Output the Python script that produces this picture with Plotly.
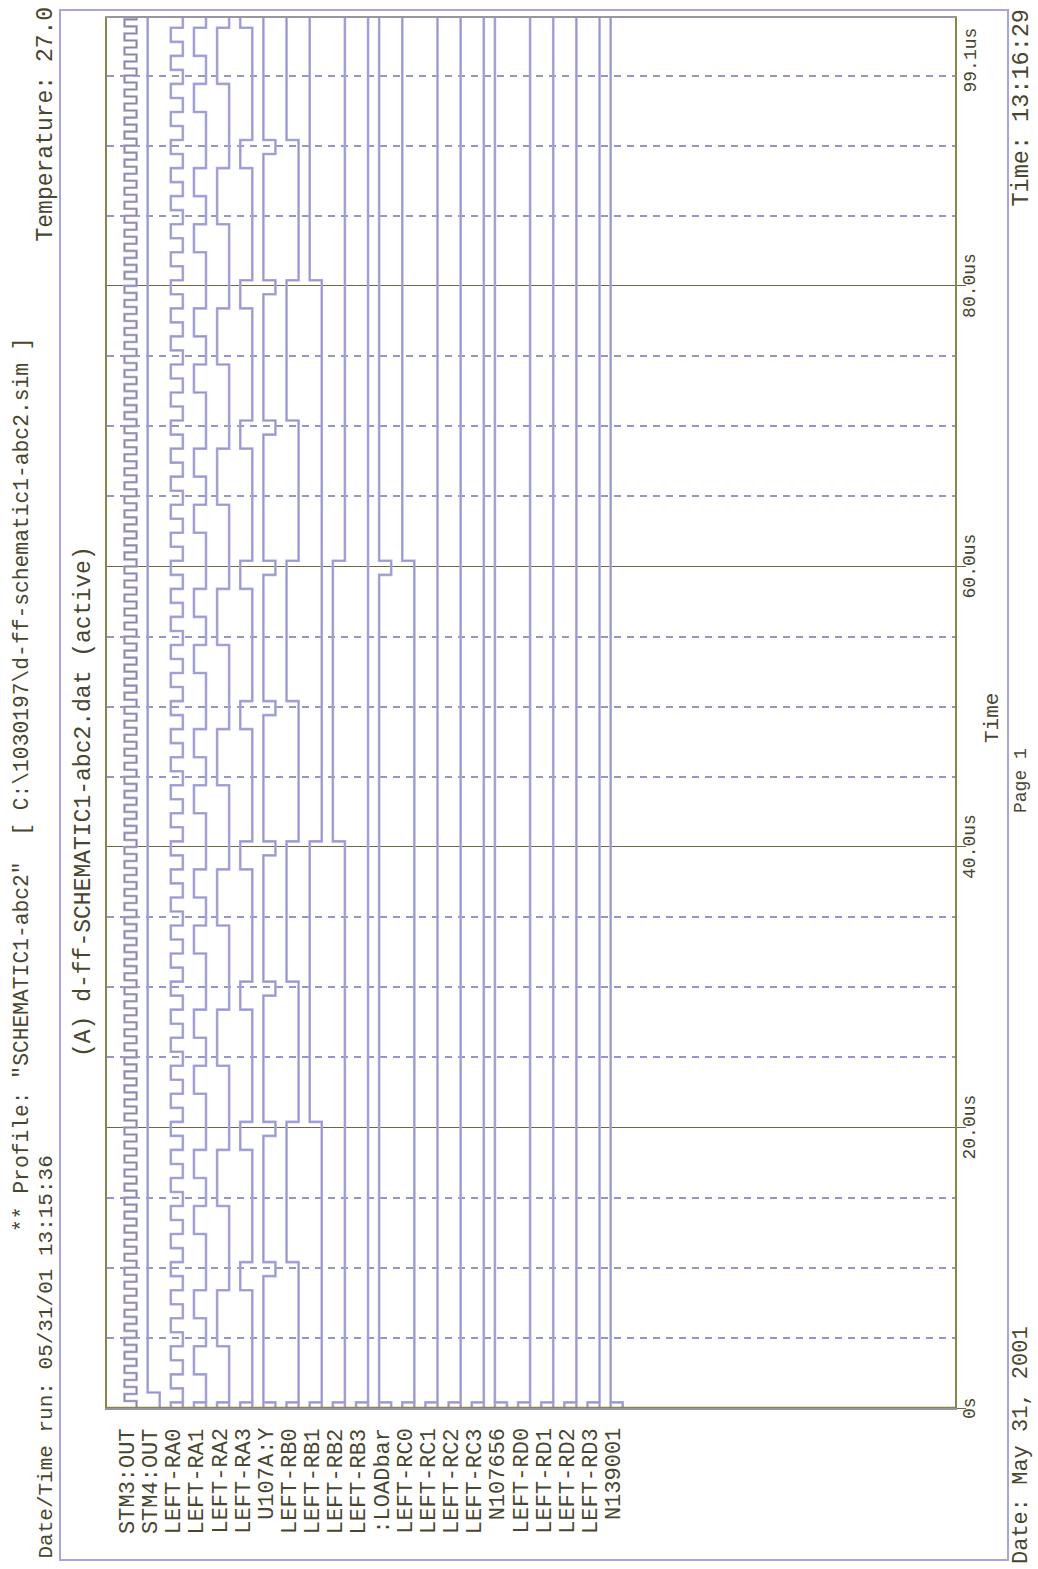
import plotly.graph_objects as go

# ---------------------------------------------------------------------------
# Digital simulation traces (PSpice-style printout, page rotated 90 degrees)
# ---------------------------------------------------------------------------
W, H = 1038, 1569

SIGNALS = ["STM3:OUT", "STM4:OUT", "LEFT-RA0", "LEFT-RA1", "LEFT-RA2", "LEFT-RA3",
           "U107A:Y", "LEFT-RB0", "LEFT-RB1", "LEFT-RB2", "LEFT-RB3", ":LOADbar",
           "LEFT-RC0", "LEFT-RC1", "LEFT-RC2", "LEFT-RC3", "N107656",
           "LEFT-RD0", "LEFT-RD1", "LEFT-RD2", "LEFT-RD3", "N139001"]

T_END = 99.1                      # us, end of the time axis
X_UNTIL = 0.4                     # us, signals are unknown (X) before this

# clock STM3:OUT - rising edges (us), high for half a period
STM3_RISE = [0.5, 1.5, 2.5, 3.5, 4.5, 5.5, 6.5, 7.5, 8.5, 9.5,
             10.5, 11.5, 12.5, 13.5, 14.5, 15.5, 16.5, 17.5, 18.5, 19.5,
             20.5, 21.5, 22.5, 23.5, 24.5, 25.5, 26.5, 27.5, 28.5, 29.5,
             30.5, 31.5, 32.5, 33.5, 34.5, 35.5, 36.5, 37.5, 38.5, 39.5,
             40.5, 41.5, 42.5, 43.5, 44.5, 45.5, 46.5, 47.5, 48.5, 49.5,
             50.5, 51.5, 52.5, 53.5, 54.5, 55.5, 56.5, 57.5, 58.5, 59.5,
             60.5, 61.5, 62.5, 63.5, 64.5, 65.5, 66.5, 67.5, 68.5, 69.5,
             70.5, 71.5, 72.5, 73.5, 74.5, 75.5, 76.5, 77.5, 78.5, 79.5,
             80.5, 81.5, 82.5, 83.5, 84.5, 85.5, 86.5, 87.5, 88.5, 89.5,
             90.5, 91.5, 92.5, 93.5, 94.5, 95.5, 96.5, 97.5, 98.5]
STM3_HIGH = 0.5

# STM4:OUT goes high once after start-up
STM4_RISE = 1.1

# units counter (LEFT-RA3..RA0), one value per 1 us slot starting at 0.4 us
RA_SLOT = 1.0
RA_COUNT = [0, 1, 2, 3, 4, 5, 6, 7, 8, 9,
            0, 1, 2, 3, 4, 5, 6, 7, 8, 9,
            0, 1, 2, 3, 4, 5, 6, 7, 8, 9,
            0, 1, 2, 3, 4, 5, 6, 7, 8, 9,
            0, 1, 2, 3, 4, 5, 6, 7, 8, 9,
            0, 1, 2, 3, 4, 5, 6, 7, 8, 9,
            0, 1, 2, 3, 4, 5, 6, 7, 8, 9,
            0, 1, 2, 3, 4, 5, 6, 7, 8, 9,
            0, 1, 2, 3, 4, 5, 6, 7, 8, 9,
            0, 1, 2, 3, 4, 5, 6, 7, 8]

# tens / higher registers, one value per 10 us slot starting at 0.4 us
DEC_SLOT = 10.0
RB_COUNT = [0, 1, 2, 3, 4, 5, 0, 1, 2, 3]
RC_COUNT = [0, 0, 0, 0, 0, 0, 1, 1, 1, 1]
RD_COUNT = [0, 0, 0, 0, 0, 0, 0, 0, 0, 0]

# active-low strobes (start of each low pulse, us)
U107A_LOW = [9.4, 19.4, 29.4, 39.4, 49.4, 59.4, 69.4, 79.4, 89.4]
LOADBAR_LOW = [59.4]
PULSE_LEN = 1.0

# time axis
MAJOR_T = [0, 20, 40, 60, 80]
MINOR_T = [5, 10, 15, 25, 30, 35, 45, 50, 55, 65, 70, 75, 85, 90, 95]
TICK_TEXT = ["0s", "20.0us", "40.0us", "60.0us", "80.0us"]
END_TEXT = "99.1us"

# ---------------------------------------------------------------------------
LOW_OFS = 0.52            # lane offset of the low level (high level sits at lane index)
LAVENDER = "#abaaf6"
OLIVE = "#8a854a"
GRID_MAJOR = "#6c693e"
GRID_MINOR = "#9694c8"
TEXT = "#48462f"
FONT = "Liberation Mono, Courier New, monospace"


def level_x(lane, lvl):
    return lane + (0.0 if lvl else LOW_OFS)


def intervals_from_slots(start, slot, values, bit):
    out = []
    for k, v in enumerate(values):
        t0 = start + k * slot
        if t0 >= T_END:
            break
        out.append((t0, min(t0 + slot, T_END), (v >> bit) & 1))
    return out


def intervals_with_pulses(start, lows, width):
    out, t = [], start
    for p in lows:
        out.append((t, p, 1))
        out.append((p, p + width, 0))
        t = p + width
    out.append((t, T_END, 1))
    return out


def merge(iv):
    out = []
    for seg in iv:
        if out and out[-1][2] == seg[2] and abs(out[-1][1] - seg[0]) < 1e-9:
            out[-1] = (out[-1][0], seg[1], seg[2])
        else:
            out.append(seg)
    return out


def path(lane, intervals, unknown_until=None):
    xs, ys = [], []
    if unknown_until is not None:
        hx, lx = level_x(lane, 1), level_x(lane, 0)
        xs += [hx, hx, lx, lx, None]
        ys += [0, unknown_until, unknown_until, 0, None]
    prev = None
    for t0, t1, lvl in intervals:
        x = level_x(lane, lvl)
        if prev is None or prev != x:
            xs.append(x); ys.append(t0)
        xs.append(x); ys.append(t1)
        prev = x
    return xs, ys


waves = {}
clk, t = [], 0.0
for r in STM3_RISE:
    clk.append((t, r, 0)); clk.append((r, r + STM3_HIGH, 1)); t = r + STM3_HIGH
if t < T_END:
    clk.append((t, T_END, 0))
waves[0] = (clk, None)
waves[1] = ([(0.0, STM4_RISE, 0), (STM4_RISE, T_END, 1)], None)
for b in range(4):
    waves[2 + b] = (merge(intervals_from_slots(X_UNTIL, RA_SLOT, RA_COUNT, b)), X_UNTIL)
    waves[7 + b] = (merge(intervals_from_slots(X_UNTIL, DEC_SLOT, RB_COUNT, b)), X_UNTIL)
    waves[12 + b] = (merge(intervals_from_slots(X_UNTIL, DEC_SLOT, RC_COUNT, b)), X_UNTIL)
    waves[17 + b] = (merge(intervals_from_slots(X_UNTIL, DEC_SLOT, RD_COUNT, b)), X_UNTIL)
waves[6] = (intervals_with_pulses(X_UNTIL, U107A_LOW, PULSE_LEN), X_UNTIL)
waves[11] = (intervals_with_pulses(X_UNTIL, LOADBAR_LOW, PULSE_LEN), X_UNTIL)
waves[16] = ([(X_UNTIL, T_END, 1)], X_UNTIL)
waves[21] = ([(X_UNTIL, T_END, 1)], X_UNTIL)

fig = go.Figure()
for lane in range(len(SIGNALS)):
    iv, unk = waves[lane]
    xs, ys = path(lane, iv, unk)
    # soft periwinkle body with a thin olive core, like the printed trace
    fig.add_trace(go.Scatter(x=xs, y=ys, mode="lines", name=SIGNALS[lane],
                             line=dict(color=LAVENDER, width=2.6),
                             hoverinfo="skip", showlegend=False))
    fig.add_trace(go.Scatter(x=xs, y=ys, mode="lines", name=SIGNALS[lane],
                             line=dict(color=OLIVE, width=1),
                             opacity=0.8 if lane == 0 else 0.45,
                             hoverinfo="skip", showlegend=False))

# plot area in pixels -> domains
PX_L, PX_R, PX_T, PX_B = 107, 955, 18, 1408
LANE_PX, LANE0_PX = 23.15, 124.5
x_rng = [(PX_L - LANE0_PX) / LANE_PX, (PX_R - LANE0_PX) / LANE_PX]

fig.update_layout(
    width=W, height=H, autosize=False,
    margin=dict(l=0, r=0, t=0, b=0),
    paper_bgcolor="white", plot_bgcolor="white",
    showlegend=False,
    xaxis=dict(domain=[PX_L / W, PX_R / W], range=x_rng, showgrid=False,
               zeroline=False, showticklabels=False, ticks="",
               showline=True, mirror=True, linecolor="#9a96a0", linewidth=1.6),
    yaxis=dict(domain=[1 - PX_B / H, 1 - PX_T / H], range=[0, T_END],
               side="right", showgrid=True, gridcolor=GRID_MAJOR, gridwidth=1.3,
               zeroline=False, tickvals=MAJOR_T, showticklabels=False,
               ticks="outside", ticklen=9, tickcolor=GRID_MAJOR, tickwidth=1.3,
               showline=True, mirror=True, linecolor=OLIVE, linewidth=1.6,
               minor=dict(tickvals=MINOR_T, showgrid=True, gridcolor=GRID_MINOR,
                          griddash="7px,6px", gridwidth=1.5, ticks="")),
)

# heavier bottom edge of the trace window (time = 0)
fig.add_shape(type="line", xref="x domain", yref="y", x0=0, x1=1, y0=0, y1=0,
              line=dict(color=OLIVE, width=2.4))

# page frame
fig.add_shape(type="rect", xref="paper", yref="paper",
              x0=60 / W, x1=1008 / W, y0=1 - 1560 / H, y1=1 - 10 / H,
              line=dict(color="#a7a5dc", width=2), layer="below")


def ptext(txt, px, py, ya="middle", size=21):
    fig.add_annotation(text=txt, x=px / W, y=1 - py / H, xref="paper", yref="paper",
                       textangle=-90, showarrow=False, xanchor="center", yanchor=ya,
                       font=dict(family=FONT, size=size, color=TEXT))


# header / footer
ptext('** Profile: "SCHEMATIC1-abc2"  [ C:\\1030197\\d-ff-schematic1-abc2.sim ]', 22, 785, size=21.3)
ptext("Date/Time run: 05/31/01 13:15:36", 46, 1561, "bottom", size=21)
ptext("Temperature: 27.0", 46, 5, "top", size=23)
ptext("(A) d-ff-SCHEMATIC1-abc2.dat (active)", 84, 802, size=23)
ptext("Date: May 31, 2001", 1021, 1566, "bottom", size=22)
ptext("Page 1", 1021, 781, size=18)
ptext("Time: 13:16:29", 1021, 8, "top", size=23.5)
ptext("Time", 993, 718, size=21)

# time tick labels
for tv, tt in zip(MAJOR_T, TICK_TEXT):
    fig.add_annotation(text=tt, x=970 / W, y=tv, xref="paper", yref="y",
                       textangle=-90, showarrow=False, xanchor="center", yanchor="middle",
                       font=dict(family=FONT, size=18, color=TEXT))
fig.add_annotation(text=END_TEXT, x=970 / W, y=T_END, xref="paper", yref="y",
                   textangle=-90, showarrow=False, xanchor="center", yanchor="top",
                   yshift=-8, font=dict(family=FONT, size=18, color=TEXT))

# signal names
for i, name in enumerate(SIGNALS):
    fig.add_annotation(text=name, x=i + 0.15, y=1 - 1426 / H, xref="x", yref="paper",
                       textangle=-90, showarrow=False, xanchor="center", yanchor="top",
                       font=dict(family=FONT, size=22, color=TEXT))

fig.write_html("out.html")
